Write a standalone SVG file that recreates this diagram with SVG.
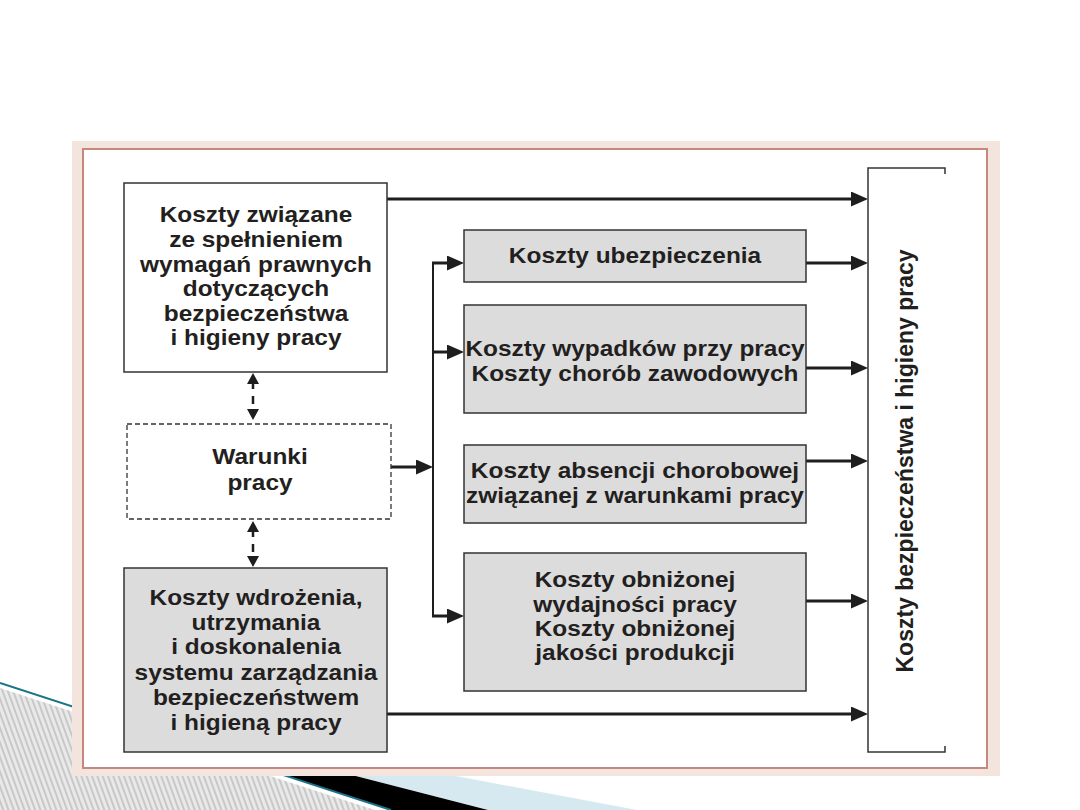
<svg xmlns="http://www.w3.org/2000/svg" width="1080" height="810" viewBox="0 0 1080 810">
<defs>
<pattern id="hatch" width="5" height="5" patternUnits="userSpaceOnUse" patternTransform="rotate(-20)">
<rect width="5" height="5" fill="#e9e9e9"/>
<line x1="1" y1="0" x2="1" y2="5" stroke="#a8a8a8" stroke-width="1"/>
</pattern>
<marker id="ah" markerUnits="userSpaceOnUse" markerWidth="17" markerHeight="15" refX="7" refY="7.5" orient="auto">
<path d="M0,0 L17,7.5 L0,15 z" fill="#1e1e1e"/>
</marker>
</defs>
<style>
.t{font-family:"Liberation Sans",Arial,Helvetica,sans-serif;font-weight:bold;font-size:22px;fill:#231f20;text-anchor:middle}
.v{font-family:"Liberation Sans",Arial,Helvetica,sans-serif;font-weight:bold;font-size:23px;fill:#231f20;text-anchor:middle}
.box{stroke:#333;stroke-width:1.5}
.w{fill:#fff}
.g{fill:#dcdcdd}
.ln{stroke:#1e1e1e;stroke-width:3;fill:none}
</style>
<rect width="1080" height="810" fill="#fff"/>
<!-- decoration -->
<g id="decoration">
<polygon points="200,728 637,810 488,810 200,736" fill="#d6e9f0"/>
<polygon points="200,736 488,810 391,810 200,748" fill="#000"/>
<polygon points="0,688 375,810 0,810" fill="url(#hatch)"/>
<line x1="0" y1="683" x2="391" y2="810" stroke="#1a7388" stroke-width="2"/>
<line x1="0" y1="686" x2="380" y2="810" stroke="#fff" stroke-width="1.5"/>
</g>
<!-- frame -->
<g id="frame">
<rect x="72" y="141" width="928" height="635" fill="#f4e4de"/>
<rect x="83" y="149" width="904" height="619" fill="#fff" stroke="#c4887e" stroke-width="2"/>
</g>
<!-- connectors -->
<g id="connectors">
<line class="ln" x1="387" y1="199" x2="858" y2="199" marker-end="url(#ah)"/>
<line class="ln" x1="387" y1="714" x2="858" y2="714" marker-end="url(#ah)"/>
<line class="ln" x1="806" y1="263" x2="858" y2="263" marker-end="url(#ah)"/>
<line class="ln" x1="806" y1="368" x2="858" y2="368" marker-end="url(#ah)"/>
<line class="ln" x1="806" y1="461" x2="858" y2="461" marker-end="url(#ah)"/>
<line class="ln" x1="806" y1="601" x2="858" y2="601" marker-end="url(#ah)"/>
<line class="ln" x1="391" y1="467" x2="423" y2="467" marker-end="url(#ah)"/>
<line x1="433" y1="262" x2="433" y2="617" stroke="#1e1e1e" stroke-width="2"/>
<line class="ln" x1="432" y1="263" x2="454" y2="263" marker-end="url(#ah)"/>
<line class="ln" x1="432" y1="352" x2="454" y2="352" marker-end="url(#ah)"/>
<line class="ln" x1="432" y1="616" x2="454" y2="616" marker-end="url(#ah)"/>
<line x1="253" y1="381" x2="253" y2="413" stroke="#1e1e1e" stroke-width="2.5" stroke-dasharray="8,7"/>
<path d="M253,373 L259,384 L247,384 z M253,420 L259,409 L247,409 z" fill="#1e1e1e"/>
<line x1="253" y1="529" x2="253" y2="560" stroke="#1e1e1e" stroke-width="2.5" stroke-dasharray="8,7"/>
<path d="M253,521 L259,532 L247,532 z M253,567 L259,556 L247,556 z" fill="#1e1e1e"/>
</g>
<!-- nodes -->
<g id="node-wymagania">
<rect class="box w" x="124" y="183" width="263" height="189"/>
<g transform="translate(256,0) scale(1.11,1)">
<text class="t" x="0" y="222">Koszty związane</text>
<text class="t" x="0" y="247">ze spełnieniem</text>
<text class="t" x="0" y="272">wymagań prawnych</text>
<text class="t" x="0" y="296">dotyczących</text>
<text class="t" x="0" y="321">bezpieczeństwa</text>
<text class="t" x="0" y="345">i higieny pracy</text>
</g>
</g>
<g id="node-warunki">
<rect x="127" y="424" width="264" height="95" fill="#fff" stroke="#333" stroke-width="1.3" stroke-dasharray="5,3"/>
<g transform="translate(260,0) scale(1.11,1)">
<text class="t" x="0" y="464">Warunki</text>
<text class="t" x="0" y="490">pracy</text>
</g>
</g>
<g id="node-wdrozenie">
<rect class="box g" x="124" y="568" width="263" height="184"/>
<g transform="translate(256,0) scale(1.11,1)">
<text class="t" x="0" y="605">Koszty wdrożenia,</text>
<text class="t" x="0" y="630">utrzymania</text>
<text class="t" x="0" y="654">i doskonalenia</text>
<text class="t" x="0" y="680">systemu zarządzania</text>
<text class="t" x="0" y="705">bezpieczeństwem</text>
<text class="t" x="0" y="730">i higieną pracy</text>
</g>
</g>
<g id="node-ubezpieczenia">
<rect class="box g" x="464" y="230" width="342" height="52"/>
<g transform="translate(635,0) scale(1.11,1)">
<text class="t" x="0" y="263">Koszty ubezpieczenia</text>
</g>
</g>
<g id="node-wypadki">
<rect class="box g" x="464" y="305" width="342" height="108"/>
<g transform="translate(635,0) scale(1.11,1)">
<text class="t" x="0" y="356">Koszty wypadków przy pracy</text>
<text class="t" x="0" y="381">Koszty chorób zawodowych</text>
</g>
</g>
<g id="node-absencja">
<rect class="box g" x="464" y="445" width="342" height="78"/>
<g transform="translate(635,0) scale(1.11,1)">
<text class="t" x="0" y="478">Koszty absencji chorobowej</text>
<text class="t" x="0" y="503">związanej z warunkami pracy</text>
</g>
</g>
<g id="node-obnizona">
<rect class="box g" x="464" y="553" width="342" height="138"/>
<g transform="translate(635,0) scale(1.11,1)">
<text class="t" x="0" y="587">Koszty obniżonej</text>
<text class="t" x="0" y="612">wydajności pracy</text>
<text class="t" x="0" y="636">Koszty obniżonej</text>
<text class="t" x="0" y="660">jakości produkcji</text>
</g>
</g>
<g id="node-koszty-bhp">
<path d="M945,174 L945,168 L868,168 L868,752 L945,752 L945,746" fill="none" stroke="#333" stroke-width="1.5"/>
<text class="v" transform="translate(913,461) rotate(-90)" x="0" y="0">Koszty bezpieczeństwa i higieny pracy</text>
</g>
</svg>
